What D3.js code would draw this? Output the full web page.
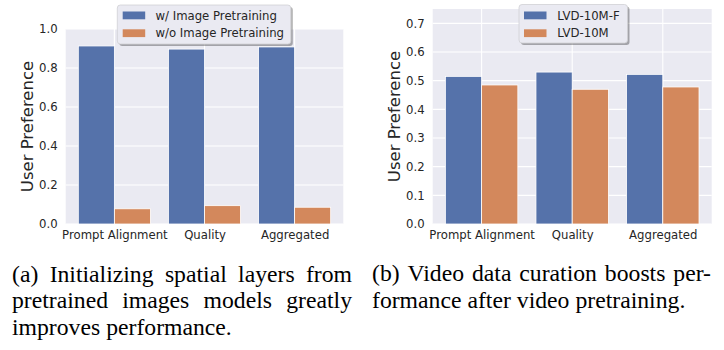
<!DOCTYPE html>
<html><head><meta charset="utf-8">
<script src="https://cdn.jsdelivr.net/npm/d3@7/dist/d3.min.js"></script>
<style>body{margin:0;background:#fff}svg{display:block}</style>
</head><body>
<svg id="c" width="724" height="350"></svg>
<script>
const categories = ["Prompt Alignment", "Quality", "Aggregated"];
const leftSeriesNames = ["w/ Image Pretraining", "w/o Image Pretraining"];
const leftWith = [0.913, 0.897, 0.908];
const leftWithout = [0.078, 0.094, 0.086];
const leftTicks = [0.0, 0.2, 0.4, 0.6, 0.8, 1.0];
const rightSeriesNames = ["LVD-10M-F", "LVD-10M"];
const rightF = [0.515, 0.530, 0.522];
const rightM = [0.485, 0.470, 0.478];
const rightTicks = [0.0, 0.1, 0.2, 0.3, 0.4, 0.5, 0.6, 0.7];
const yLabel = "User Preference";
const captionA = ["(a)  Initializing spatial layers from", "pretrained images models greatly", "improves performance."];
const captionB = ["(b)  Video data curation boosts per-", "formance after video pretraining."];

const colors = ["#5572aa", "#d3885c"];
const svg = d3.select("#c");
const FONT = "DejaVu Sans, sans-serif";
const SERIF = '"Liberation Serif", "Times New Roman", Tinos, serif';
const TXT = "#262626";

function panel(cfg) {
  const g = svg.append("g");
  const x = d3.scaleLinear().domain([-0.54, categories.length - 1 + 0.54]).range([cfg.left, cfg.right]);
  const y = d3.scaleLinear().domain(cfg.ydom).range([cfg.bottom, cfg.top]);
  g.append("rect").attr("x", cfg.left).attr("y", cfg.top)
    .attr("width", cfg.right - cfg.left).attr("height", cfg.bottom - cfg.top).attr("fill", "#eaeaf2");
  g.selectAll(".hg").data(cfg.ticks).enter().append("line")
    .attr("x1", cfg.left).attr("x2", cfg.right).attr("y1", d => y(d)).attr("y2", d => y(d))
    .attr("stroke", "#fff").attr("stroke-width", 1.1);
  g.selectAll(".vg").data(categories.map((c, i) => i)).enter().append("line")
    .attr("x1", d => x(d)).attr("x2", d => x(d)).attr("y1", cfg.top).attr("y2", cfg.bottom)
    .attr("stroke", "#fff").attr("stroke-width", 1.1);
  const bw = 0.4;
  cfg.series.forEach((s, si) => {
    g.selectAll(".b" + si).data(s).enter().append("rect")
      .attr("x", (d, i) => x(i - bw + si * bw))
      .attr("width", x(bw) - x(0))
      .attr("y", d => y(d)).attr("height", d => y(0) - y(d))
      .attr("fill", colors[si]).attr("stroke", "#fff").attr("stroke-width", 0.8);
  });
  const ya = d3.axisLeft(y).tickValues(cfg.ticks).tickFormat(d3.format(".1f")).tickSize(0).tickPadding(8);
  const yg = g.append("g").attr("transform", `translate(${cfg.left},0)`).call(ya);
  yg.select(".domain").remove();
  yg.selectAll("text").attr("font-family", FONT).attr("font-size", 11.7).attr("fill", TXT);
  const xa = d3.axisBottom(x).tickValues(categories.map((c, i) => i)).tickFormat(i => categories[i]).tickSize(0).tickPadding(7);
  const xg = g.append("g").attr("transform", `translate(0,${cfg.bottom})`).call(xa);
  xg.select(".domain").remove();
  xg.selectAll("text").attr("font-family", FONT).attr("font-size", 11.7).attr("fill", TXT);
  g.append("text").attr("transform", `translate(${cfg.ylx},${(cfg.top + cfg.bottom) / 2}) rotate(-90)`)
    .attr("text-anchor", "middle").attr("font-family", FONT).attr("font-size", 16.5).attr("fill", TXT)
    .text(yLabel);
  const L = cfg.legend;
  const lg = g.append("g");
  lg.append("rect").attr("x", L.x + 2).attr("y", L.y + 2).attr("width", L.w).attr("height", L.h)
    .attr("rx", 3).attr("fill", "#000").attr("opacity", 0.3);
  lg.append("rect").attr("x", L.x).attr("y", L.y).attr("width", L.w).attr("height", L.h)
    .attr("rx", 3).attr("fill", "#eaeaf2").attr("stroke", "#d0d0d4").attr("stroke-width", 0.8);
  cfg.names.forEach((n, i) => {
    lg.append("rect").attr("x", L.px).attr("y", 11.5 + i * 17.8).attr("width", 22.5).attr("height", 7.8)
      .attr("fill", colors[i]);
    lg.append("text").attr("x", L.tx).attr("y", 19.6 + i * 17.8).attr("font-family", FONT)
      .attr("font-size", 11.7).attr("fill", TXT).text(n);
  });
}

panel({left: 65.7, right: 343.3, top: 29, bottom: 224, ydom: [0, 1.0], ticks: leftTicks,
  series: [leftWith, leftWithout], names: leftSeriesNames, ylx: 33,
  legend: {x: 117.3, y: 5, w: 173.5, h: 39, px: 122.7, tx: 155.5}});
panel({left: 432.7, right: 711.7, top: 9, bottom: 224, ydom: [0, 0.75], ticks: rightTicks,
  series: [rightF, rightM], names: rightSeriesNames, ylx: 400,
  legend: {x: 519, y: 4.5, w: 108.5, h: 38.5, px: 524, tx: 557.3}});

function caption(lines, x0, x1, justifyCount, baselines) {
  lines.forEach((line, li) => {
    const words = line.split(/\s+/);
    const g = svg.append("g");
    const ts = words.map(wd => g.append("text").style("font-family", SERIF)
      .attr("font-size", 23.7).attr("fill", "#000").attr("y", baselines[li]).text(wd));
    const widths = ts.map(t => t.node().getComputedTextLength());
    const total = d3.sum(widths);
    const gap = li < justifyCount ? (x1 - x0 - total) / (words.length - 1) : 6;
    let cx = x0;
    ts.forEach((t, i) => { t.attr("x", cx); cx += widths[i] + gap; });
  });
}
caption(captionA, 12, 352, 2, [281.5, 308, 334.5]);
caption(captionB, 372, 711, 1, [281, 307.5]);
</script>
</body></html>
